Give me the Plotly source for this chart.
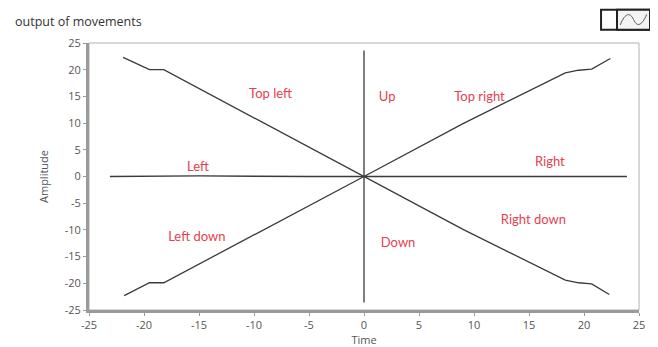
import plotly.graph_objects as go

# Series (Time, Amplitude)
top_left_x = [-21.9, -20.5, -19.5, -18.2, -9.0, 0, 9.0, 18.3, 19.5, 20.7, 22.3]
top_left_y = [22.3, 21.0, 20.0, 20.0, 9.9, 0, -9.9, -19.4, -19.9, -20.1, -22.1]

bottom_left_x = [-21.8, -20.5, -19.5, -18.2, -9.0, 0, 9.0, 18.3, 19.5, 20.7, 22.4]
bottom_left_y = [-22.3, -21.0, -19.9, -19.9, -9.9, 0, 9.9, 19.4, 19.9, 20.1, 22.1]

horiz_x = [-23.1, -15, -5, 0, 5, 15, 23.9]
horiz_y = [0, 0.1, 0, 0, 0.1, 0, 0]

vert_x = [0, 0]
vert_y = [-23.6, 23.6]

labels = ["Top left", "Up", "Top right", "Left", "Right", "Left down", "Down", "Right down"]
label_x = [-8.5, 2.1, 10.5, -15.1, 16.9, -15.2, 3.1, 15.4]
label_y = [15.4, 14.8, 14.8, 1.7, 2.6, -11.4, -12.5, -8.2]

ticks = [-25, -20, -15, -10, -5, 0, 5, 10, 15, 20, 25]
tick_text = ["-25", "-20", "-15", "-10", "-5", "0", "5", "10", "15", "20", "25"]

line_style = dict(color="#3a3a3a", width=1.3)
tick_font = dict(family="Open Sans, DejaVu Sans", size=11, color="#555")

fig = go.Figure()
for xs, ys in [(top_left_x, top_left_y), (bottom_left_x, bottom_left_y),
               (horiz_x, horiz_y), (vert_x, vert_y)]:
    fig.add_trace(go.Scatter(x=xs, y=ys, mode="lines", line=line_style,
                             showlegend=False, hoverinfo="skip"))

fig.add_trace(go.Scatter(
    x=label_x, y=label_y, text=labels, mode="text",
    textfont=dict(family="Lato, Open Sans", size=13, color="#e6404f"),
    showlegend=False, hoverinfo="skip",
))

axis_common = dict(
    range=[-25, 25], tickvals=ticks, ticktext=tick_text,
    showgrid=False, zeroline=False, automargin=False,
    showline=True, linecolor="#9a9a9a", linewidth=3,
    ticks="outside", ticklen=3, tickcolor="#9a9a9a", tickwidth=1,
    tickfont=tick_font,
)
fig.update_xaxes(**axis_common, title=dict(text="Time", font=tick_font, standoff=2))
fig.update_yaxes(**axis_common, title=dict(text="Amplitude", font=tick_font, standoff=14))

# thin frame on top/right
fig.add_shape(type="rect", xref="paper", yref="paper", x0=0, y0=0, x1=1, y1=1,
              line=dict(color="#b0b0b0", width=1), layer="below")
# legend icon box in the corner
fig.add_shape(type="rect", xref="paper", yref="paper", x0=0.931, x1=1.04, y0=1.05, y1=1.125,
              line=dict(color="#222", width=2))
fig.add_shape(type="rect", xref="paper", yref="paper", x0=0.96, x1=1.02, y0=1.05, y1=1.125,
              line=dict(color="#222", width=2), fillcolor="#f4f4f4")
fig.add_shape(type="path", xref="paper", yref="paper",
              path="M 0.966 1.068 C 0.975 1.115, 0.984 1.115, 0.99 1.088 S 1.004 1.06, 1.014 1.107",
              line=dict(color="#555", width=1))

fig.add_annotation(text="output of movements", xref="paper", yref="paper",
                   x=-0.138, y=1.079, xanchor="left", yanchor="middle", showarrow=False,
                   font=dict(family="Open Sans, DejaVu Sans", size=12.5, color="#333"))

# the page body adds an 8 px offset, margins are reduced for it
fig.update_layout(
    width=658, height=347,
    margin=dict(l=81, r=27, t=35, b=45),
    plot_bgcolor="white", paper_bgcolor="white",
)

fig.write_html("out.html")
